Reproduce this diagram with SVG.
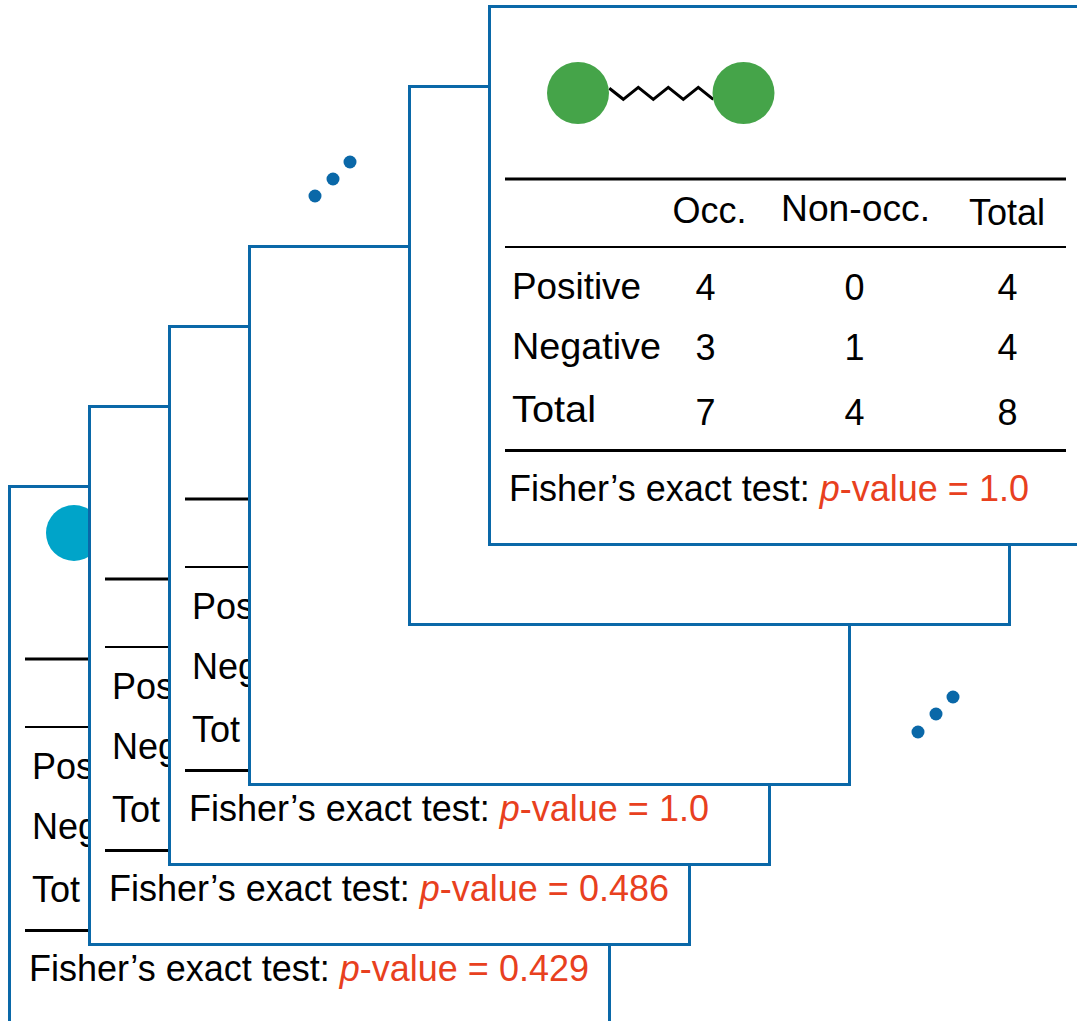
<svg xmlns="http://www.w3.org/2000/svg" width="1077" height="1021" viewBox="0 0 1077 1021">
<style>
.card{fill:#fff;stroke:#0a68a8;stroke-width:3}
.thick{stroke:#000;stroke-width:2.8}
.thin{stroke:#000;stroke-width:1.8}
text{font-family:"Liberation Sans",Arial,sans-serif;font-size:36px;fill:#000}
.num{text-anchor:middle}
.red{fill:#e8401e}
.it{font-style:italic}
.dot{fill:#0a68a8}
</style>
<g id="card1" transform="translate(9.5,486.5)">
<rect class="card" x="0" y="0" width="600" height="538"/>
<circle cx="64.5" cy="46.5" r="28" fill="#00a4c9"/>
<line class="thick" x1="15.5" y1="172.5" x2="576.5" y2="172.5"/>
<line class="thin" x1="15.5" y1="240.5" x2="576.5" y2="240.5"/>
<text x="22.5" y="292.5">Pos</text>
<text x="22.5" y="352.5">Neg</text>
<text x="22.5" y="415.5">Tot</text>
<line class="thick" x1="15.5" y1="444" x2="576.5" y2="444"/>
<text x="19.5" y="494.5">Fisher’s exact test: <tspan class="red it">p</tspan><tspan class="red">-value = 0.429</tspan></text>
</g>
<g id="card2" transform="translate(89.5,406.5)">
<rect class="card" x="0" y="0" width="600" height="538"/>
<line class="thick" x1="15.5" y1="172.5" x2="576.5" y2="172.5"/>
<line class="thin" x1="15.5" y1="240.5" x2="576.5" y2="240.5"/>
<text x="22.5" y="292.5">Pos</text>
<text x="22.5" y="352.5">Neg</text>
<text x="22.5" y="415.5">Tot</text>
<line class="thick" x1="15.5" y1="444" x2="576.5" y2="444"/>
<text x="19.5" y="494.5">Fisher’s exact test: <tspan class="red it">p</tspan><tspan class="red">-value = 0.486</tspan></text>
</g>
<g id="card3" transform="translate(169.5,326.5)">
<rect class="card" x="0" y="0" width="600" height="538"/>
<line class="thick" x1="15.5" y1="172.5" x2="576.5" y2="172.5"/>
<line class="thin" x1="15.5" y1="240.5" x2="576.5" y2="240.5"/>
<text x="22.5" y="292.5">Pos</text>
<text x="22.5" y="352.5">Neg</text>
<text x="22.5" y="415.5">Tot</text>
<line class="thick" x1="15.5" y1="444" x2="576.5" y2="444"/>
<text x="19.5" y="494.5">Fisher’s exact test: <tspan class="red it">p</tspan><tspan class="red">-value = 1.0</tspan></text>
</g>
<g id="card4" transform="translate(249.5,246.5)">
<rect class="card" x="0" y="0" width="600" height="538"/>
</g>
<g id="dots1">
<circle class="dot" cx="315" cy="196" r="6.5"/>
<circle class="dot" cx="333" cy="179" r="6.5"/>
<circle class="dot" cx="350" cy="162" r="6.5"/>
</g>
<g id="dots2">
<circle class="dot" cx="918" cy="732" r="6.5"/>
<circle class="dot" cx="936" cy="714" r="6.5"/>
<circle class="dot" cx="953" cy="697" r="6.5"/>
</g>
<g id="card5" transform="translate(409.5,86.5)">
<rect class="card" x="0" y="0" width="600" height="538"/>
</g>
<g id="card6" transform="translate(489.5,6.5)">
<rect class="card" x="0" y="0" width="600" height="538"/>
<polyline points="119.8,81.8 133.8,92.8 148.8,80.8 163.8,92.8 178.8,80.8 193.8,92.8 208.8,80.8 223.8,92.8" fill="none" stroke="#000" stroke-width="3"/>
<circle cx="88.5" cy="86.5" r="31" fill="#45a449"/>
<circle cx="254" cy="86.5" r="31" fill="#45a449"/>
<line class="thick" x1="15.5" y1="172.5" x2="576.5" y2="172.5"/>
<text class="num" x="220" y="216.5">Occ.</text>
<text class="num" x="366" y="214.5" textLength="149" lengthAdjust="spacingAndGlyphs">Non-occ.</text>
<text class="num" x="517.5" y="218.5">Total</text>
<line class="thin" x1="15.5" y1="240.5" x2="576.5" y2="240.5"/>
<text x="22.5" y="292.5" textLength="129" lengthAdjust="spacingAndGlyphs">Positive</text>
<text class="num" x="216" y="293">4</text>
<text class="num" x="365" y="293">0</text>
<text class="num" x="518" y="293">4</text>
<text x="22.5" y="352.5" textLength="149" lengthAdjust="spacingAndGlyphs">Negative</text>
<text class="num" x="216" y="353">3</text>
<text class="num" x="365" y="353">1</text>
<text class="num" x="518" y="353">4</text>
<text x="22.5" y="415.5" textLength="84" lengthAdjust="spacingAndGlyphs">Total</text>
<text class="num" x="216" y="418">7</text>
<text class="num" x="365" y="418">4</text>
<text class="num" x="518" y="418">8</text>
<line class="thick" x1="15.5" y1="444" x2="576.5" y2="444"/>
<text x="19.5" y="494.5">Fisher’s exact test: <tspan class="red it">p</tspan><tspan class="red">-value = 1.0</tspan></text>
</g>
</svg>
